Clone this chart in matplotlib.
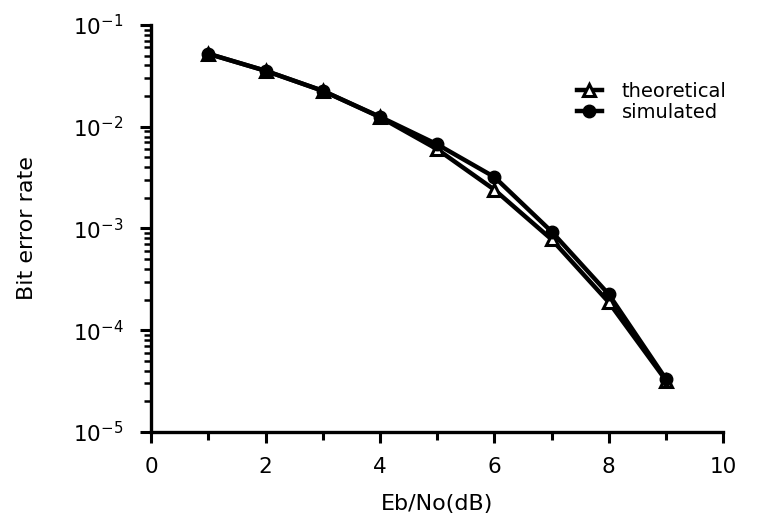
import matplotlib
matplotlib.use("Agg")
import matplotlib.pyplot as plt
from matplotlib.ticker import LogLocator, MultipleLocator, FixedLocator

# Eb/No in dB
ebno_db = [1, 2, 3, 4, 5, 6, 7, 8, 9]
# bit error rate, theory and simulation
ber_theoretical = [0.052, 0.0354, 0.0225, 0.0124, 0.0060, 0.0024, 0.00078, 0.000188, 3.2e-5]
ber_simulated = [0.052, 0.0354, 0.0225, 0.0125, 0.0067, 0.0032, 0.00093, 0.000225, 3.3e-5]

x_ticks = [0, 2, 4, 6, 8, 10]

plt.rcParams['font.family'] = ['DejaVu Sans']
plt.rcParams['mathtext.fontset'] = 'dejavusans'

fig = plt.figure(figsize=(7.67, 5.18), dpi=100)
ax = fig.add_axes([0.197, 0.166, 0.746, 0.786])

ax.plot(ebno_db, ber_theoretical, color='black', lw=3.2, marker='^', ms=9,
        mfc='white', mec='black', mew=2.2, label='theoretical', zorder=3)
ax.plot(ebno_db, ber_simulated, color='black', lw=3.2, marker='o', ms=9,
        mfc='black', mec='black', label='simulated', zorder=4)

ax.set_yscale('log')
ax.set_xlim(0, 10)
ax.set_ylim(1e-5, 1e-1)

ax.xaxis.set_major_locator(FixedLocator(x_ticks))
ax.xaxis.set_minor_locator(MultipleLocator(1))
ax.yaxis.set_major_locator(LogLocator(base=10, numticks=10))
ax.yaxis.set_minor_locator(LogLocator(base=10, subs=range(2, 10), numticks=10))

for side in ('top', 'right'):
    ax.spines[side].set_visible(False)
for side in ('left', 'bottom'):
    ax.spines[side].set_linewidth(2.4)

ax.tick_params(axis='both', which='major', direction='out', length=8, width=2.2,
               labelsize=15.5)
ax.tick_params(axis='y', which='major', pad=12)
ax.tick_params(axis='x', which='major', pad=10)
ax.tick_params(axis='x', which='minor', direction='out', length=6, width=2.2)
ax.tick_params(axis='y', which='minor', direction='out', length=5, width=1.8)

ax.set_xlabel('Eb/No(dB)', fontsize=16)
ax.set_ylabel('Bit error rate', fontsize=16)
ax.xaxis.set_label_coords(0.5, -0.152)
ax.yaxis.set_label_coords(-0.2, 0.5)

ax.legend(loc='center left', bbox_to_anchor=(0.727, 0.81), frameon=False,
          fontsize=14, handlelength=1.3, handletextpad=1.0, labelspacing=0.1,
          borderpad=0.0)

fig.savefig('out.png', dpi=100)
